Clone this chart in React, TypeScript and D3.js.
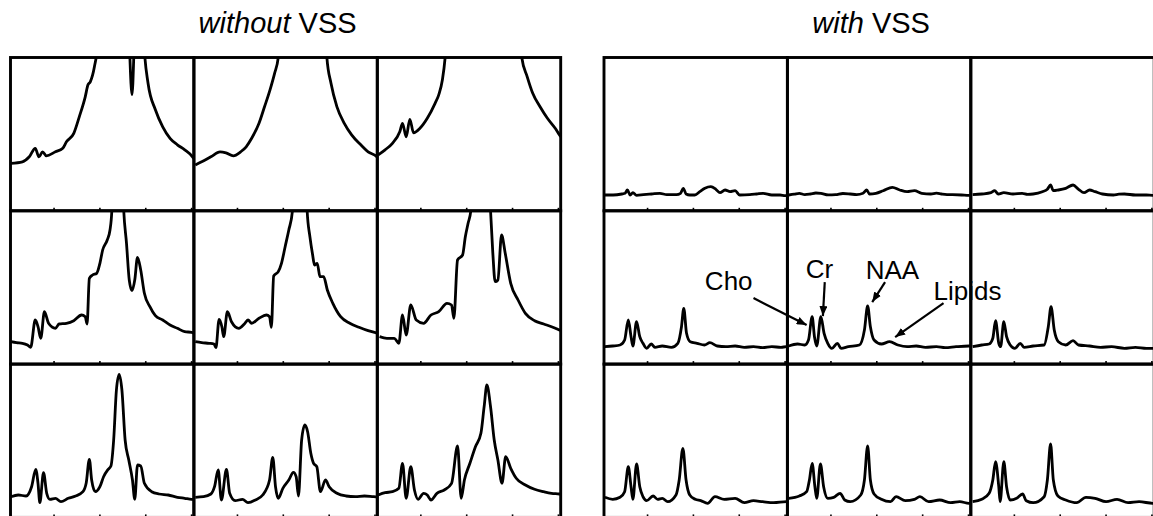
import React from "react";
import * as d3 from "d3";

type Pt = [number, number]; // [chemical shift (ppm), signal (a.u.)]

// x axis ticks (ppm), drawn inside the bottom edge of every panel
const shiftTicks = [3, 2, 1, 0];

// ---- without VSS (left 3x3 grid) ----
const noVssA1: Pt[] = [
  [3.94, 47.5], [3.69, 49], [3.54, 54], [3.41, 62.5], [3.33, 54], [3.25, 59], [3.17, 55],
  [2.97, 59], [2.81, 62.5], [2.73, 69], [2.57, 77.5], [2.45, 94], [2.32, 114], [2.26, 126],
  [2.21, 129], [2.12, 144], [2.03, 175], [1.88, 400], [1.5, 400], [1.36, 170], [1.3, 116],
  [1.25, 170], [1.12, 400], [1.05, 175], [0.95, 127.5], [0.79, 101], [0.63, 84], [0.47, 72.5],
  [0.31, 66], [0.15, 61], [-0.02, 54], [-0.05, 52],
];
const noVssA2: Pt[] = [
  [3.92, 45.8], [3.78, 49], [3.58, 54], [3.38, 59], [3.25, 58], [3.09, 55], [2.93, 59],
  [2.81, 64], [2.69, 72.5], [2.53, 87.5], [2.41, 104], [2.29, 121], [2.19, 137.5], [2.11, 153.5],
  [2.03, 200], [1.88, 400], [1.23, 400], [1.12, 220], [1.05, 153.5], [0.96, 127.5], [0.83, 104],
  [0.67, 87.5], [0.51, 76], [0.31, 66], [0.15, 59], [-0.04, 54], [-0.05, 53.5],
];
const noVssA3: Pt[] = [
  [3.93, 56], [3.78, 61], [3.62, 67.5], [3.46, 79], [3.4, 87.5], [3.32, 74], [3.24, 91.5],
  [3.16, 78], [3.02, 82.5], [2.86, 92.5], [2.69, 107.5], [2.61, 116], [2.53, 131], [2.47, 153.5],
  [2.38, 220], [2.21, 400], [1.01, 400], [0.88, 220], [0.8, 153.5], [0.68, 134], [0.56, 117.5],
  [0.4, 104], [0.24, 92.5], [0.07, 82.5], [-0.02, 76], [-0.05, 74],
];
const noVssB1: Pt[] = [
  [3.94, 22.4], [3.82, 21.4], [3.69, 20.8], [3.58, 19.1], [3.51, 16.8], [3.41, 44.1], [3.35, 37.4],
  [3.29, 25.8], [3.21, 52.4], [3.12, 40.8], [2.97, 35.8], [2.89, 40.1], [2.73, 40.8], [2.57, 43.4],
  [2.4, 49.1], [2.32, 47.4], [2.28, 40.1], [2.23, 85.8], [2.16, 89.1], [2.07, 90.8], [2.0, 100.8],
  [1.94, 114.1], [1.84, 124.1], [1.78, 134.1], [1.74, 153.4], [1.68, 250], [1.61, 400], [1.55, 250],
  [1.48, 153.4], [1.42, 120.8], [1.36, 84.1], [1.3, 73.4], [1.24, 84.1], [1.18, 106.8], [1.11, 94.1],
  [1.03, 70.8], [0.91, 57.4], [0.79, 48.4], [0.63, 44.1], [0.47, 39.1], [0.31, 35.8], [0.15, 32.4],
  [0.0, 31.8], [-0.05, 31],
];
const noVssB2: Pt[] = [
  [3.92, 22.4], [3.78, 21.4], [3.62, 20.8], [3.51, 20.1], [3.47, 16.4], [3.4, 44.8], [3.34, 37.4],
  [3.3, 27.4], [3.22, 52.4], [3.13, 42.4], [2.97, 35.8], [2.85, 40.1], [2.77, 44.1], [2.69, 40.8],
  [2.53, 45.8], [2.37, 49.1], [2.3, 47.4], [2.26, 36.8], [2.21, 88.1], [2.11, 92.4], [2.04, 100.8],
  [1.96, 117.4], [1.88, 134.1], [1.8, 153.4], [1.73, 260], [1.64, 400], [1.55, 260], [1.48, 153.4],
  [1.42, 127.4], [1.36, 109.1], [1.32, 99.1], [1.26, 100.8], [1.2, 87.4], [1.12, 87.4], [1.04, 74.1],
  [0.92, 60.8], [0.75, 47.4], [0.55, 40.8], [0.35, 36.8], [0.15, 33.4], [-0.01, 31.4], [-0.05, 31],
];
const noVssB3: Pt[] = [
  [3.9, 27.4], [3.74, 25.8], [3.58, 25.8], [3.48, 20.8], [3.4, 49.1], [3.32, 29.1], [3.22, 59.1],
  [3.1, 44.1], [2.94, 40.8], [2.78, 49.1], [2.61, 52.4], [2.43, 60.8], [2.33, 59.1], [2.28, 45.8],
  [2.2, 104.1], [2.09, 109.1], [2.03, 127.4], [1.97, 140.8], [1.91, 153.4], [1.84, 260], [1.7, 400],
  [1.57, 260], [1.48, 153.4], [1.43, 110.8], [1.38, 82.4], [1.32, 84.1], [1.24, 129.1], [1.16, 110.8],
  [1.04, 80.8], [0.88, 64.1], [0.72, 50.8], [0.52, 43.4], [0.32, 40.1], [0.15, 37.4], [-0.02, 34.1],
  [-0.05, 33.5],
];
const noVssC1: Pt[] = [
  [3.94, 20.7], [3.78, 22.4], [3.61, 21.4], [3.49, 30.7], [3.4, 48.1], [3.35, 34.1], [3.31, 14.7],
  [3.23, 44.7], [3.16, 24.1], [3.09, 18.1], [2.97, 19.1], [2.85, 15.7], [2.69, 19.1], [2.53, 21.4],
  [2.37, 25.7], [2.3, 34.1], [2.23, 58.1], [2.18, 37.4], [2.1, 25.7], [2.0, 30.7], [1.92, 40.7],
  [1.82, 48.1], [1.76, 51.4], [1.7, 77.4], [1.64, 127.4], [1.58, 143.1], [1.52, 127.4], [1.45, 77.4],
  [1.37, 57.4], [1.29, 37.4], [1.24, 18.1], [1.18, 52.4], [1.11, 51.4], [1.03, 34.1], [0.87, 25.7],
  [0.71, 23.4], [0.51, 22.4], [0.31, 20.1], [0.15, 19.1], [0.0, 18.1], [-0.05, 18],
];
const noVssC2: Pt[] = [
  [3.92, 20.1], [3.74, 20.7], [3.58, 23.4], [3.5, 30.7], [3.42, 47.4], [3.35, 17.4], [3.24, 48.1],
  [3.17, 24.1], [3.05, 16.7], [2.89, 18.1], [2.77, 14.7], [2.61, 17.4], [2.45, 22.4], [2.3, 37.4],
  [2.23, 60.1], [2.17, 30.7], [2.11, 19.1], [2.01, 29.1], [1.88, 37.4], [1.78, 45.1], [1.72, 40.7],
  [1.67, 21.4], [1.6, 77.4], [1.53, 92.4], [1.47, 85.7], [1.4, 64.1], [1.34, 54.1], [1.27, 50.7],
  [1.19, 25.7], [1.08, 37.4], [1.0, 30.7], [0.83, 24.1], [0.63, 21.4], [0.43, 20.7], [0.23, 21.4],
  [0.03, 20.7], [-0.05, 20.5],
];
const noVssC3: Pt[] = [
  [3.93, 22.4], [3.78, 24.7], [3.62, 25.7], [3.48, 29.1], [3.4, 54.1], [3.32, 19.1], [3.22, 50.7],
  [3.14, 27.4], [3.06, 18.1], [2.94, 24.1], [2.86, 22.4], [2.78, 17.4], [2.65, 24.1], [2.49, 27.4],
  [2.33, 34.1], [2.2, 71.4], [2.12, 19.1], [2.05, 37.4], [1.93, 54.1], [1.81, 70.7], [1.69, 84.1],
  [1.62, 110.7], [1.56, 132.4], [1.48, 110.7], [1.4, 77.4], [1.32, 57.4], [1.23, 34.1], [1.15, 60.7],
  [1.04, 49.1], [0.92, 39.1], [0.72, 32.4], [0.52, 28.1], [0.32, 25.7], [0.15, 24.1], [-0.02, 23.4],
  [-0.05, 23.2],
];

// ---- with VSS (right 3x3 grid) ----
const vssA1: Pt[] = [
  [3.93, 15.8], [3.75, 15.8], [3.56, 16.8], [3.49, 17.5], [3.44, 20.8], [3.38, 15.8], [3.32, 18.1],
  [3.24, 15.5], [3.09, 16.1], [2.91, 16.8], [2.73, 17.5], [2.58, 16.1], [2.37, 16.1], [2.28, 17.5],
  [2.22, 22.5], [2.16, 16.8], [2.08, 15.8], [1.97, 15.8], [1.86, 19.1], [1.75, 22.5], [1.62, 24.1],
  [1.51, 21.5], [1.42, 18.1], [1.31, 20.8], [1.2, 19.1], [1.09, 20.1], [0.99, 15.8], [0.77, 16.1],
  [0.62, 16.8], [0.48, 17.5], [0.29, 15.8], [0.11, 15.8], [0.0, 15.1], [-0.05, 15.3],
];
const vssA2: Pt[] = [
  [3.92, 15.8], [3.8, 16.6], [3.69, 17.5], [3.57, 16.2], [3.45, 16.8], [3.33, 17.8], [3.22, 17.5],
  [3.06, 15.9], [2.9, 16.1], [2.74, 17.3], [2.58, 16.8], [2.44, 16.2], [2.3, 17.5], [2.22, 20.8],
  [2.16, 16.8], [2.02, 17.5], [1.86, 20.1], [1.66, 23.5], [1.5, 20.8], [1.34, 19.1], [1.18, 20.1],
  [1.02, 17.5], [0.82, 16.8], [0.7, 17.6], [0.59, 16.8], [0.47, 16.2], [0.35, 16.1], [0.15, 15.8],
  [-0.01, 15.5], [-0.05, 15.5],
];
const vssA3: Pt[] = [
  [3.91, 16.1], [3.71, 16.8], [3.51, 18.1], [3.43, 20.1], [3.35, 16.8], [3.23, 18.1], [3.03, 16.8],
  [2.83, 17.5], [2.71, 16.4], [2.59, 16.8], [2.39, 19.1], [2.28, 21.5], [2.21, 25.8], [2.15, 20.1],
  [2.04, 20.8], [1.88, 22.5], [1.72, 25.8], [1.6, 21.5], [1.48, 18.1], [1.36, 20.8], [1.24, 19.1],
  [1.08, 16.8], [0.84, 15.8], [0.72, 16.6], [0.6, 16.8], [0.36, 15.8], [0.12, 15.8], [-0.02, 15.5],
  [-0.05, 15.5],
];
const vssB1: Pt[] = [
  [3.93, 17.4], [3.76, 18.1], [3.6, 19.1], [3.5, 24.1], [3.42, 44.1], [3.36, 27.4], [3.32, 18.1],
  [3.24, 42.4], [3.17, 27.4], [3.1, 20.8], [3.02, 15.8], [2.92, 20.1], [2.84, 16.8], [2.68, 18.1],
  [2.48, 16.8], [2.34, 20.8], [2.26, 37.4], [2.21, 55.8], [2.15, 30.8], [2.07, 22.4], [1.92, 20.8],
  [1.76, 19.1], [1.64, 21.4], [1.48, 18.1], [1.29, 17.4], [1.09, 18.1], [0.89, 16.8], [0.69, 17.4],
  [0.49, 16.4], [0.29, 17.4], [0.09, 16.8], [-0.03, 17.4], [-0.05, 17.4],
];
const vssB2: Pt[] = [
  [3.92, 18.1], [3.73, 20.1], [3.57, 19.1], [3.49, 24.1], [3.41, 47.4], [3.36, 27.4], [3.31, 18.1],
  [3.22, 47.4], [3.15, 30.8], [3.07, 20.8], [2.98, 15.8], [2.86, 20.8], [2.78, 15.8], [2.62, 17.4],
  [2.38, 19.1], [2.27, 34.1], [2.2, 58.1], [2.14, 37.4], [2.06, 24.1], [1.9, 20.1], [1.72, 22.4],
  [1.54, 19.1], [1.34, 17.4], [1.14, 18.1], [0.94, 16.8], [0.7, 17.4], [0.51, 16.4], [0.27, 17.4],
  [-0.01, 18.1], [-0.05, 18],
];
const vssB3: Pt[] = [
  [3.91, 17.4], [3.71, 19.1], [3.55, 20.1], [3.47, 25.8], [3.41, 43.4], [3.34, 20.8], [3.3, 17.4],
  [3.23, 42.4], [3.17, 27.4], [3.09, 19.1], [2.99, 15.8], [2.87, 20.8], [2.79, 16.8], [2.59, 18.1],
  [2.35, 19.1], [2.26, 37.4], [2.2, 57.4], [2.13, 34.1], [2.04, 22.4], [1.88, 19.1], [1.72, 23.4],
  [1.6, 19.1], [1.36, 18.1], [1.12, 16.8], [0.88, 17.4], [0.6, 15.8], [0.36, 16.8], [0.12, 15.8],
  [-0.02, 15.8], [-0.05, 15.8],
];
const vssC1: Pt[] = [
  [3.93, 20.1], [3.76, 18.1], [3.6, 20.1], [3.5, 25.7], [3.42, 50.7], [3.36, 30.7], [3.32, 18.1],
  [3.24, 53.4], [3.17, 30.7], [3.1, 20.7], [3.02, 16.7], [2.88, 21.4], [2.78, 18.1], [2.68, 19.1],
  [2.56, 15.7], [2.38, 22.4], [2.31, 37.4], [2.23, 69.1], [2.16, 37.4], [2.08, 22.4], [1.96, 18.1],
  [1.84, 16.7], [1.69, 14.1], [1.53, 20.7], [1.33, 18.1], [1.09, 19.1], [0.89, 14.7], [0.69, 16.7],
  [0.49, 15.7], [0.25, 14.7], [-0.03, 15.7], [-0.05, 15.7],
];
const vssC2: Pt[] = [
  [3.92, 19.1], [3.69, 21.4], [3.53, 25.7], [3.47, 37.4], [3.41, 54.1], [3.35, 30.7], [3.31, 19.1],
  [3.23, 53.4], [3.16, 30.7], [3.07, 19.1], [2.94, 20.1], [2.8, 24.1], [2.7, 17.4], [2.58, 15.7],
  [2.35, 22.4], [2.27, 37.4], [2.2, 71.4], [2.14, 37.4], [2.06, 23.4], [1.9, 18.1], [1.7, 15.7],
  [1.58, 20.7], [1.38, 16.7], [1.18, 18.1], [1.06, 20.7], [0.87, 15.7], [0.63, 17.4], [0.39, 14.7],
  [0.19, 15.7], [-0.01, 14.1], [-0.05, 14.5],
];
const vssC3: Pt[] = [
  [3.91, 15.7], [3.71, 18.1], [3.55, 24.1], [3.47, 37.4], [3.41, 55.7], [3.34, 30.7], [3.31, 15.7],
  [3.23, 55.7], [3.17, 30.7], [3.09, 17.4], [2.95, 19.1], [2.82, 23.4], [2.74, 16.7], [2.59, 14.7],
  [2.35, 20.7], [2.28, 37.4], [2.21, 73.4], [2.15, 37.4], [2.05, 21.4], [1.88, 17.4], [1.64, 14.7],
  [1.44, 20.1], [1.24, 19.1], [1.0, 15.7], [0.76, 18.1], [0.52, 14.7], [0.28, 15.7], [-0.02, 14.1],
  [-0.05, 14.3],
];

const withoutVss: Pt[][][] = [
  [noVssA1, noVssA2, noVssA3],
  [noVssB1, noVssB2, noVssB3],
  [noVssC1, noVssC2, noVssC3],
];
const withVss: Pt[][][] = [
  [vssA1, vssA2, vssA3],
  [vssB1, vssB2, vssB3],
  [vssC1, vssC2, vssC3],
];
const grids = [withoutVss, withVss];
const gridTitles = [
  ["without", " VSS"],
  ["with", " VSS"],
];

// metabolite labels, placed in the data space of the centre panel of the "with VSS" grid
const peakLabels = ["Cho", "Cr", "NAA", "Lipids"];
const labelPos: Pt[] = [[5.23, 74], [3.25, 86], [1.66, 85], [0.02, 64]];
const arrowFrom: Pt[] = [[4.69, 66], [3.135, 82], [1.82, 82], [0.545, 61]];
const arrowTo: Pt[] = [[3.53, 39], [3.176, 48], [2.1, 62], [1.6, 27]];

const W = 1153;
const H = 516;
const cellW = 183.4;
const cellH = 153.3;
const top = 57.5;
const gridX = [10.5, 604];
const font = "'Liberation Sans', Arial, Helvetica, sans-serif";

const x = d3.scaleLinear().domain([3.95, -0.05]).range([0, cellW]);
const y = d3.scaleLinear().domain([0, 153.3]).range([cellH, 0]);
const line = d3
  .line<Pt>()
  .x((d) => x(d[0]))
  .y((d) => y(d[1]))
  .curve(d3.curveMonotoneX);

export default function App() {
  return (
    <svg
      width={W}
      height={H}
      viewBox={`0 0 ${W} ${H}`}
      style={{ position: "absolute", left: 0, top: 0, background: "#fff" }}
    >
      <defs>
        <marker
          id="arrowHead"
          viewBox="0 0 10 8"
          refX={10}
          refY={4}
          markerWidth={10}
          markerHeight={8}
          markerUnits="userSpaceOnUse"
          orient="auto"
        >
          <path d="M0,0 L10,4 L0,8 Z" fill="#000" />
        </marker>
      </defs>

      {gridTitles.map((t, g) => (
        <text
          key={t[0]}
          x={gridX[g] + (3 * cellW) / 2 - 8}
          y={32.5}
          textAnchor="middle"
          fontFamily={font}
          fontSize={29}
          fill="#000"
        >
          <tspan fontStyle="italic">{t[0]}</tspan>
          <tspan>{t[1]}</tspan>
        </text>
      ))}

      {grids.map((grid, g) =>
        grid.map((row, i) =>
          row.map((spec, j) => {
            const id = `clip-${g}-${i}-${j}`;
            return (
              <g key={id} transform={`translate(${gridX[g] + j * cellW},${top + i * cellH})`}>
                <clipPath id={id}>
                  <rect x={0} y={0} width={cellW} height={cellH} />
                </clipPath>
                <path
                  d={line(spec) ?? ""}
                  clipPath={`url(#${id})`}
                  fill="none"
                  stroke="#000"
                  strokeWidth={2.8}
                  strokeLinejoin="round"
                />
                {shiftTicks.map((t) => (
                  <line
                    key={t}
                    x1={x(t)}
                    x2={x(t)}
                    y1={cellH}
                    y2={cellH - 3}
                    stroke="#000"
                    strokeWidth={1.6}
                  />
                ))}
                <rect
                  x={0}
                  y={0}
                  width={cellW}
                  height={cellH}
                  fill="none"
                  stroke="#000"
                  strokeWidth={2.9}
                />
              </g>
            );
          })
        )
      )}

      <g transform={`translate(${gridX[1] + cellW},${top + cellH})`}>
        {peakLabels.map((lab, k) => (
          <g key={lab}>
            <text
              x={x(labelPos[k][0])}
              y={y(labelPos[k][1])}
              textAnchor="middle"
              fontFamily={font}
              fontSize={26}
              fill="#000"
            >
              {lab}
            </text>
            <line
              x1={x(arrowFrom[k][0])}
              y1={y(arrowFrom[k][1])}
              x2={x(arrowTo[k][0])}
              y2={y(arrowTo[k][1])}
              stroke="#000"
              strokeWidth={2.2}
              markerEnd="url(#arrowHead)"
            />
          </g>
        ))}
      </g>
    </svg>
  );
}
